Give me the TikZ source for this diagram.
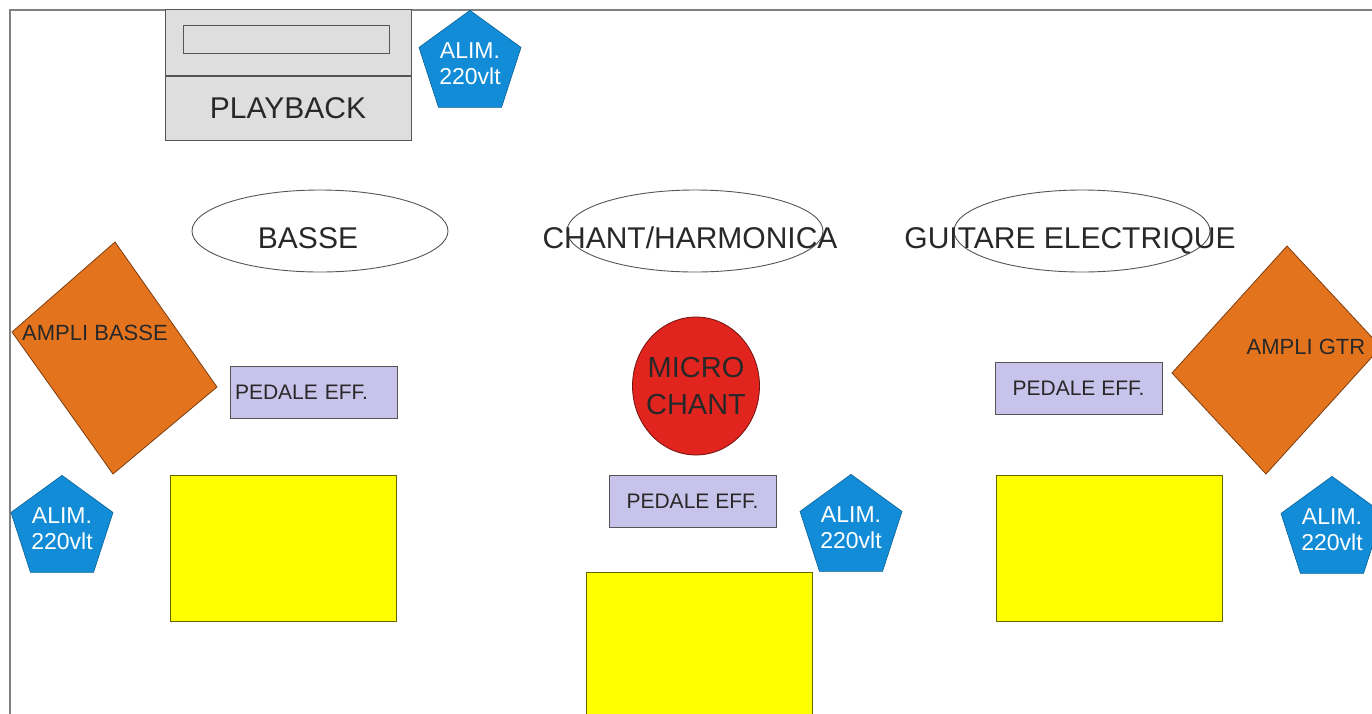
\documentclass[tikz,border=0pt]{standalone}
\usepackage{fontspec}
\setmainfont{Liberation Sans}
\usetikzlibrary{shapes.geometric}

\definecolor{textgray}{RGB}{40,40,40}
\definecolor{linegray}{RGB}{85,85,85}
\definecolor{deckgray}{RGB}{222,222,222}
\definecolor{alimblue}{RGB}{18,140,215}
\definecolor{ampliorange}{RGB}{228,115,30}
\definecolor{pedalelav}{RGB}{200,195,235}
\definecolor{microred}{RGB}{226,36,30}
\definecolor{retouryellow}{RGB}{255,255,0}

\begin{document}
\begin{tikzpicture}[x=1pt, y=-1pt,
    every node/.style={inner sep=0pt, text=textgray},
    deck/.style={rectangle, fill=deckgray, draw=linegray, line width=0.9pt, minimum width=246},
    zone/.style={ellipse, draw=linegray, line width=0.9pt, minimum width=256, minimum height=82},
    bigtext/.style={font=\fontsize{30}{36}\selectfont},
    alim/.style={regular polygon, regular polygon sides=5, minimum size=100,
        fill=alimblue, draw=alimblue!70!black, line width=0.6pt,
        text=white, align=center, font=\fontsize{23}{26}\selectfont},
    ampli/.style={fill=ampliorange, draw=ampliorange!55!black, line width=0.8pt},
    amplitext/.style={font=\fontsize{22}{26}\selectfont},
    pedale/.style={rectangle, fill=pedalelav, draw=linegray, line width=0.8pt,
        minimum width=167, minimum height=52, font=\fontsize{21}{25}\selectfont},
    retour/.style={rectangle, fill=retouryellow, draw=retouryellow!40!black, line width=0.8pt,
        minimum width=226, minimum height=146},
    ]
    \clip (0,0) rectangle (1372,713);
    % Stage frame
    \draw[gray, line width=1.5pt] (10,10) rectangle (1400,740);

    % Playback
    \node[deck, minimum height=64, bigtext] (playback) at (288,108) {PLAYBACK};
    \node[deck, minimum height=66, anchor=south] (deckup) at (playback.north) {};
    \node[rectangle, draw=linegray, line width=0.9pt, minimum width=206, minimum height=28] (slot) at (286,39) {};
    \node[alim] (alimplay) at (470,64) {ALIM.\\220vlt};

    % Musicians
    \node[zone] (basse) at (320,231) {};
    \node[bigtext] (bassetxt) at (308,238) {BASSE};
    \node[zone] (chant) at (695,231) {};
    \node[bigtext] (chanttxt) at (690,238) {CHANT/HARMONICA};
    \node[zone] (guitare) at (1082,231) {};
    \node[bigtext] (guitaretxt) at (1070,241) {GUITARE ELECTRIQUE};

    % Bass side
    \draw[ampli] (115,242) -- (217,387) -- (113,474) -- (12,332) -- cycle;
    \node[amplitext] (amplibasse) at (95,333) {AMPLI BASSE};
    \node[pedale, text width=157, align=left] (pedalebasse) at (313.5,392) {PEDALE EFF.};
    \node[alim] (alimbasse) at (62,529) {ALIM.\\220vlt};
    \node[retour] (retourbasse) at (283.5,548) {};

    % Vocals
    \node[ellipse, fill=microred, draw=microred!50!black, line width=0.8pt,
        minimum width=127, minimum height=138] (micro) at (696,386) {};
    \node[align=center, font=\fontsize{29}{37}\selectfont] (microtxt) at (micro) {MICRO\\CHANT};
    \node[pedale] (pedalechant) at (692.5,501.5) {PEDALE EFF.};
    \node[alim] (alimchant) at (851,528) {ALIM.\\220vlt};
    \node[retour, minimum height=156] (retourchant) at (699,650) {};

    % Guitar side
    \draw[ampli] (1287,246) -- (1381,347) -- (1266,474) -- (1172,373) -- cycle;
    \node[amplitext] (ampligtr) at (1306,347) {AMPLI GTR};
    \node[pedale] (pedalegtr) at (1078.5,388) {PEDALE EFF.};
    \node[alim] (alimgtr) at (1332,530) {ALIM.\\220vlt};
    \node[retour] (retourgtr) at (1109,548) {};
\end{tikzpicture}
\end{document}
